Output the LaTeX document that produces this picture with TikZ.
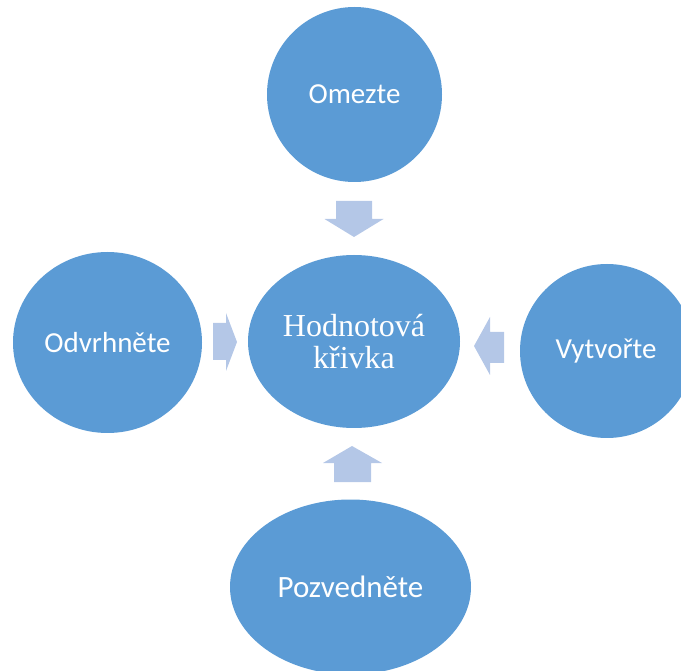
\documentclass[tikz,border=0pt]{standalone}
\usepackage{fontspec}
\setmainfont{Liberation Serif}
\newfontfamily\labelfont{Carlito}
\usetikzlibrary{shapes.geometric}
\definecolor{blob}{HTML}{5B9BD5}
\definecolor{arrowfill}{HTML}{B4C7E7}
\begin{document}
\begin{tikzpicture}[x=1pt,y=-1pt,
  blobnode/.style={ellipse, fill=blob, draw=none, inner sep=0pt, text=white},
  sidelabel/.style={font=\labelfont\fontsize{29}{32}\selectfont},
  blockarrow/.style={fill=arrowfill, draw=none}]
\useasboundingbox (0,0) rectangle (681,671);
\node[blobnode, sidelabel, minimum width=175pt, minimum height=175pt] (top) at (354.5,94.5) {Omezte};
\node[blobnode, align=center, font=\fontsize{32}{32.5}\selectfont, minimum width=212pt, minimum height=173pt] (center) at (354,341.5) {Hodnotová\\křivka};
\node[blobnode, sidelabel, minimum width=189pt, minimum height=181pt] (left) at (107.5,342.5) {Odvrhněte};
\node[blobnode, sidelabel, minimum width=174pt, minimum height=174pt] (right) at (607,351) {\hspace*{-2pt}Vytvořte};
\node[blobnode, font=\labelfont\fontsize{31}{34}\selectfont, minimum width=241pt, minimum height=175pt] (bottom) at (350.5,587) {Pozvedněte};
% block arrows
\fill[blockarrow] (336,201) -- (372,201) -- (372,219) -- (383.5,219) -- (354,237) -- (324.5,219) -- (336,219) -- cycle;
\fill[blockarrow] (213,323) -- (226,323) -- (226,313) -- (237,342) -- (226,371) -- (226,360) -- (213,360) -- cycle;
\fill[blockarrow] (504,332) -- (490,332) -- (490,317) -- (474,346) -- (490,375) -- (490,363) -- (504,363) -- cycle;
\fill[blockarrow] (334,482) -- (334,463) -- (323,463) -- (352,446) -- (382,463) -- (371,463) -- (371,482) -- cycle;
\end{tikzpicture}
\end{document}
